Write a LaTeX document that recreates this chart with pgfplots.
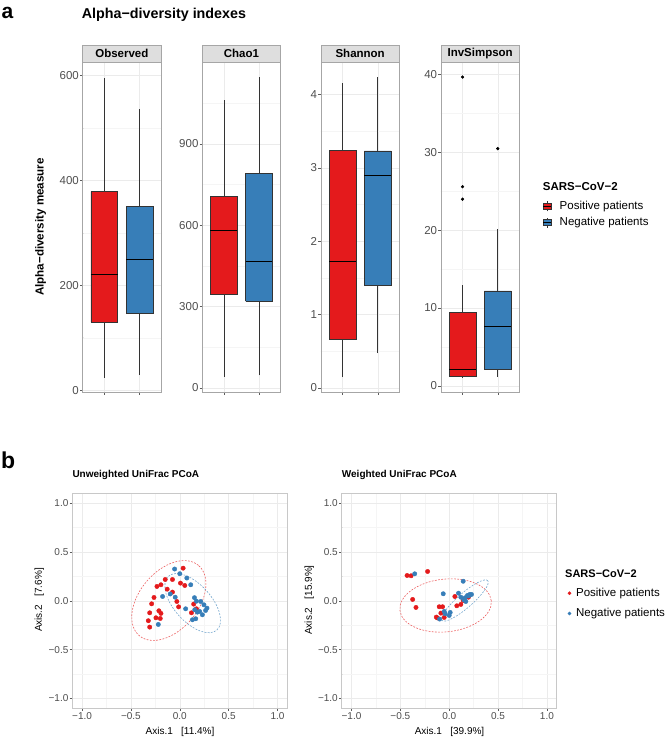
\documentclass[border=0pt]{standalone}
\usepackage{fontspec}
\setmainfont{Liberation Sans}
\usepackage{pgfplots}
\pgfplotsset{compat=1.18}

\definecolor{setred}{HTML}{E41A1C}
\definecolor{setblue}{HTML}{377EB8}
\definecolor{boxline}{HTML}{333333}
\definecolor{gridmaj}{HTML}{EBEBEB}
\definecolor{gridmin}{HTML}{F5F5F5}
\definecolor{bordercol}{HTML}{A6A6A6}
\definecolor{bordercolB}{HTML}{C8C8C8}
\definecolor{stripfill}{HTML}{DEDEDE}
\definecolor{ticktext}{HTML}{4D4D4D}

\newcommand\tickfontA{\fontsize{11.5bp}{13bp}\selectfont}
\newcommand\tickfontB{\fontsize{10bp}{12bp}\selectfont}
\newcommand\stripfont{\fontsize{11.5bp}{13bp}\selectfont\bfseries}

\pgfplotsset{
  common/.style={
    scale only axis, anchor=south west,
    grid=both,
    major grid style={gridmaj, line width=0.5bp},
    minor grid style={gridmin, line width=0.4bp},
    axis line style={bordercol, line width=0.6bp},
    tick align=outside, xtick pos=bottom, ytick pos=left,
    major tick length=2.7bp, minor tick length=0.01bp,
    tick style={color=boxline!80, line width=0.5bp},
    /pgf/number format/assume math mode=true,
  },
  facet/.style={
    common, width=78.3bp, height=329.7bp,
    xmin=0.4, xmax=1.6, xtick={0.73,1.27}, xticklabels={,},
    yticklabel style={font=\tickfontA, text=ticktext, inner sep=1bp},
    every axis title shift=0pt,
    title style={at={(0.5,1)}, anchor=south, yshift=0pt, fill=stripfill, draw=bordercol,
      line width=0.6bp, minimum width=78.3bp, minimum height=16.3bp,
      inner sep=0pt, font=\stripfont},
  },
  pcoa/.style={
    common, width=215bp, height=215bp,
    axis line style={bordercolB, line width=0.6bp},
    xmin=-1.1, xmax=1.1, ymin=-1.1, ymax=1.1,
    xtick={-1,-0.5,0,0.5,1}, ytick={-1,-0.5,0,0.5,1},
    xticklabels={−1.0,−0.5,0.0,0.5,1.0},
    yticklabels={−1.0,−0.5,0.0,0.5,1.0},
    minor xtick={-0.75,-0.25,0.25,0.75},
    minor ytick={-0.75,-0.25,0.25,0.75},
    ticklabel style={font=\tickfontB, text=ticktext, inner sep=1bp},
  },
  boxR/.style={draw=boxline, fill=setred, line width=0.6bp},
  boxB/.style={draw=boxline, fill=setblue, line width=0.6bp},
  whisk/.style={draw=boxline, line width=0.6bp},
  med/.style={draw=black, line width=1.2bp},
  outl/.style={only marks, mark=*, mark size=1.4bp, mark options={draw=black, fill=black}},
  leg/.style={draw=none, fill=none, inner sep=0pt, outer sep=0pt,
    font=\fontsize{11.5bp}{13bp}\selectfont,
    nodes={inner sep=0pt, text height=8.3bp, text depth=2.4bp},
    cells={anchor=west}},
}

\begin{document}
\begin{tikzpicture}
\useasboundingbox (0bp,0bp) rectangle (667bp,738bp);

% ---------- panel a ----------
\node[anchor=base west, inner sep=0pt, font=\fontsize{21bp}{24bp}\selectfont\bfseries] at (1.5bp,719bp) {a};
\node[anchor=base west, inner sep=0pt, font=\fontsize{14.3bp}{16bp}\selectfont\bfseries] at (81.7bp,719.7bp) {Alpha−diversity indexes};
\node[rotate=90, inner sep=0pt, font=\fontsize{11.6bp}{13bp}\selectfont\bfseries] at (40.7bp,511bp) {Alpha−diversity measure};
\node[anchor=west, inner sep=0pt, font=\fontsize{11.5bp}{13bp}\selectfont\bfseries] at (542.7bp,551bp) {SARS−CoV−2};

% Observed
\begin{axis}[facet, at={(82.7bp,346bp)}, ymin=-3.6, ymax=625.6,
  ytick={0,200,400,600}, minor ytick={100,300,500}, title={Observed}]
\addplot[whisk] coordinates {(0.73,24) (0.73,130)};
\addplot[whisk] coordinates {(0.73,379) (0.73,595.6)};
\addplot[boxR] coordinates {(0.525,130) (0.935,130) (0.935,379) (0.525,379) (0.525,130)};
\addplot[med] coordinates {(0.525,221) (0.935,221)};
\addplot[whisk] coordinates {(1.27,28.6) (1.27,147)};
\addplot[whisk] coordinates {(1.27,351) (1.27,536.5)};
\addplot[boxB] coordinates {(1.065,147) (1.475,147) (1.475,351) (1.065,351) (1.065,147)};
\addplot[med] coordinates {(1.065,249) (1.475,249)};
\end{axis}

% Chao1
\begin{axis}[facet, at={(202.3bp,346bp)}, ymin=-15, ymax=1201,
  ytick={0,300,600,900}, minor ytick={150,450,750,1050}, title={Chao1}]
\addplot[whisk] coordinates {(0.73,40.5) (0.73,345)};
\addplot[whisk] coordinates {(0.73,707) (0.73,1062)};
\addplot[boxR] coordinates {(0.525,345) (0.935,345) (0.935,707) (0.525,707) (0.525,345)};
\addplot[med] coordinates {(0.525,582) (0.935,582)};
\addplot[whisk] coordinates {(1.27,46.7) (1.27,319)};
\addplot[whisk] coordinates {(1.27,790) (1.27,1146)};
\addplot[boxB] coordinates {(1.065,319) (1.475,319) (1.475,790) (1.065,790) (1.065,319)};
\addplot[med] coordinates {(1.065,467) (1.475,467)};
\end{axis}

% Shannon
\begin{axis}[facet, at={(321bp,346bp)}, ymin=-0.054, ymax=4.44,
  ytick={0,1,2,3,4}, minor ytick={0.5,1.5,2.5,3.5}, title={Shannon}]
\addplot[whisk] coordinates {(0.73,0.15) (0.73,0.658)};
\addplot[whisk] coordinates {(0.73,3.237) (0.73,4.163)};
\addplot[boxR] coordinates {(0.525,0.658) (0.935,0.658) (0.935,3.237) (0.525,3.237) (0.525,0.658)};
\addplot[med] coordinates {(0.525,1.721) (0.935,1.721)};
\addplot[whisk] coordinates {(1.27,0.477) (1.27,1.407)};
\addplot[whisk] coordinates {(1.27,3.233) (1.27,4.236)};
\addplot[boxB] coordinates {(1.065,1.407) (1.475,1.407) (1.475,3.233) (1.065,3.233) (1.065,1.407)};
\addplot[med] coordinates {(1.065,2.892) (1.475,2.892)};
\end{axis}

% InvSimpson
\begin{axis}[facet, at={(441bp,346bp)}, ymin=-0.8, ymax=41.6,
  ytick={0,10,20,30,40}, minor ytick={5,15,25,35}, title={InvSimpson},
  legend style={leg, at={(1.3027,0.5795)}, anchor=north west, row sep=5.7bp,
    /tikz/every odd column/.append style={column sep=8.5bp}},
  legend cell align=left]
\addlegendimage{legend image code/.code={
  \draw[boxline, line width=0.5bp] (3.65bp,-5bp) -- (3.65bp,5bp);
  \draw[boxline, fill=setred, line width=0.5bp] (0bp,-3bp) rectangle (7.3bp,3bp);
  \draw[black, line width=0.9bp] (0bp,0bp) -- (7.3bp,0bp);}}
\addlegendentry{Positive patients}
\addlegendimage{legend image code/.code={
  \draw[boxline, line width=0.5bp] (3.65bp,-5bp) -- (3.65bp,5bp);
  \draw[boxline, fill=setblue, line width=0.5bp] (0bp,-3bp) rectangle (7.3bp,3bp);
  \draw[black, line width=0.9bp] (0bp,0bp) -- (7.3bp,0bp);}}
\addlegendentry{Negative patients}
\addplot[whisk, forget plot] coordinates {(0.73,1.1) (0.73,1.16)};
\addplot[whisk, forget plot] coordinates {(0.73,9.4) (0.73,12.96)};
\addplot[boxR, forget plot] coordinates {(0.525,1.16) (0.935,1.16) (0.935,9.4) (0.525,9.4) (0.525,1.16)};
\addplot[med, forget plot] coordinates {(0.525,2.06) (0.935,2.06)};
\addplot[outl, forget plot] coordinates {(0.73,39.7) (0.73,25.6) (0.73,24.0)};
\addplot[whisk, forget plot] coordinates {(1.27,1.16) (1.27,2.15)};
\addplot[whisk, forget plot] coordinates {(1.27,12.2) (1.27,20.1)};
\addplot[boxB, forget plot] coordinates {(1.065,2.15) (1.475,2.15) (1.475,12.2) (1.065,12.2) (1.065,2.15)};
\addplot[med, forget plot] coordinates {(1.065,7.64) (1.475,7.64)};
\addplot[outl, forget plot] coordinates {(1.27,30.5)};
\end{axis}

% ---------- panel b ----------
\node[anchor=base west, inner sep=0pt, font=\fontsize{23bp}{26bp}\selectfont\bfseries] at (1bp,269.7bp) {b};
\node[anchor=base west, inner sep=0pt, font=\fontsize{10bp}{12bp}\selectfont\bfseries] at (72.3bp,260.7bp) {Unweighted UniFrac PCoA};
\node[anchor=base west, inner sep=0pt, font=\fontsize{10bp}{12bp}\selectfont\bfseries] at (341.7bp,260.7bp) {Weighted UniFrac PCoA};
\node[inner sep=0pt, font=\fontsize{10bp}{12bp}\selectfont] at (180bp,6.3bp) {Axis.1\ \ \ [11.4\%]};
\node[inner sep=0pt, font=\fontsize{10bp}{12bp}\selectfont] at (449.5bp,6.3bp) {Axis.1\ \ \ [39.9\%]};
\node[rotate=90, inner sep=0pt, font=\fontsize{10bp}{12bp}\selectfont] at (39.3bp,138bp) {Axis.2\ \ \ [7.6\%]};
\node[rotate=90, inner sep=0pt, font=\fontsize{10bp}{12bp}\selectfont] at (309.3bp,138bp) {Axis.2\ \ \ [15.9\%]};
\node[anchor=west, inner sep=0pt, font=\fontsize{11bp}{13bp}\selectfont\bfseries] at (565bp,164bp) {SARS−CoV−2};

\begin{axis}[pcoa, at={(72.3bp,29.7bp)}]
\addplot[only marks, mark=*, mark size=2.2bp, color=setred, mark options={draw=setred, fill=setred}] coordinates {
(0.034,0.334) (-0.075,0.218) (0.007,0.181) (0.051,0.157) (-0.149,0.218)
(-0.193,0.164) (-0.234,0.147) (-0.129,0.119) (-0.075,0.089) (-0.264,0.034)
(-0.288,-0.031) (-0.308,-0.123) (-0.214,-0.102) (-0.193,-0.129) (-0.244,-0.174)
(-0.200,-0.181) (-0.322,-0.204) (-0.308,-0.269) (-0.030,-0.007) (-0.012,-0.062)
(0.142,-0.034) (0.119,-0.123) (0.170,-0.082)};
\addplot[only marks, mark=*, mark size=2.2bp, color=setblue, mark options={draw=setblue, fill=setblue}] coordinates {
(-0.053,0.325) (0.000,0.277) (0.072,0.233) (0.112,0.164) (-0.176,0.044)
(-0.098,0.070) (-0.047,0.037) (0.060,-0.082) (0.150,0.032) (0.170,-0.004)
(0.214,-0.007) (0.247,-0.041) (0.278,-0.075) (0.264,-0.099) (0.153,-0.092)
(0.180,-0.116) (0.203,-0.109) (0.231,-0.143) (0.129,-0.194) (0.163,-0.184)
(-0.220,-0.242)};
\draw[setred!70, line width=0.6bp, dash pattern=on 1.8bp off 1.4bp, rotate around={50:(axis cs:-0.112,0.003)}]
  (axis cs:-0.112,0.003) ellipse [x radius=0.47, y radius=0.30];
\draw[setblue!70, line width=0.6bp, dash pattern=on 1.8bp off 1.4bp, rotate around={-48:(axis cs:0.132,-0.024)}]
  (axis cs:0.132,-0.024) ellipse [x radius=0.37, y radius=0.19];
\end{axis}

\begin{axis}[pcoa, at={(341.7bp,29.7bp)},
  legend style={leg, at={(1.0512,0.5598)}, anchor=north west, row sep=9.5bp,
    /tikz/every odd column/.append style={column sep=4.8bp}},
  legend cell align=left]
\addplot[only marks, mark=*, mark size=2.2bp, color=setred, mark options={draw=setred, fill=setred},
  legend image code/.code={\fill[setred] (0bp,0bp) circle (1.6bp);}] coordinates {
(-0.431,0.259) (-0.390,0.256) (-0.221,0.300) (-0.374,0.014) (-0.340,-0.068)
(0.058,0.044) (-0.102,-0.061) (-0.068,-0.061) (-0.085,-0.126) (-0.132,-0.167)
(-0.122,-0.175) (-0.051,-0.170) (0.078,-0.051) (0.119,-0.037) (0.143,0.003)
(0.197,0.037)};
\addlegendentry{Positive patients}
\addplot[only marks, mark=*, mark size=2.2bp, color=setblue, mark options={draw=setblue, fill=setblue},
  legend image code/.code={\fill[setblue] (0bp,0bp) circle (1.6bp);}] coordinates {
(-0.353,0.276) (0.143,0.200) (-0.061,0.072) (0.095,0.078) (0.119,0.037)
(0.163,0.031) (0.187,0.055) (0.211,0.065) (0.228,0.065) (0.170,-0.007)
(-0.051,-0.109) (-0.041,-0.133) (0.000,-0.150) (0.010,-0.119) (-0.098,-0.187)
(0.150,0.010) (0.200,0.050)};
\addlegendentry{Negative patients}
\draw[setred!70, line width=0.6bp, dash pattern=on 1.8bp off 1.4bp, rotate around={6:(axis cs:-0.037,-0.048)}]
  (axis cs:-0.037,-0.048) ellipse [x radius=0.47, y radius=0.27];
\draw[setblue!70, line width=0.6bp, dash pattern=on 1.8bp off 1.4bp, rotate around={41:(axis cs:0.161,0.003)}]
  (axis cs:0.161,0.003) ellipse [x radius=0.31, y radius=0.075];
\end{axis}
\end{tikzpicture}
\end{document}
